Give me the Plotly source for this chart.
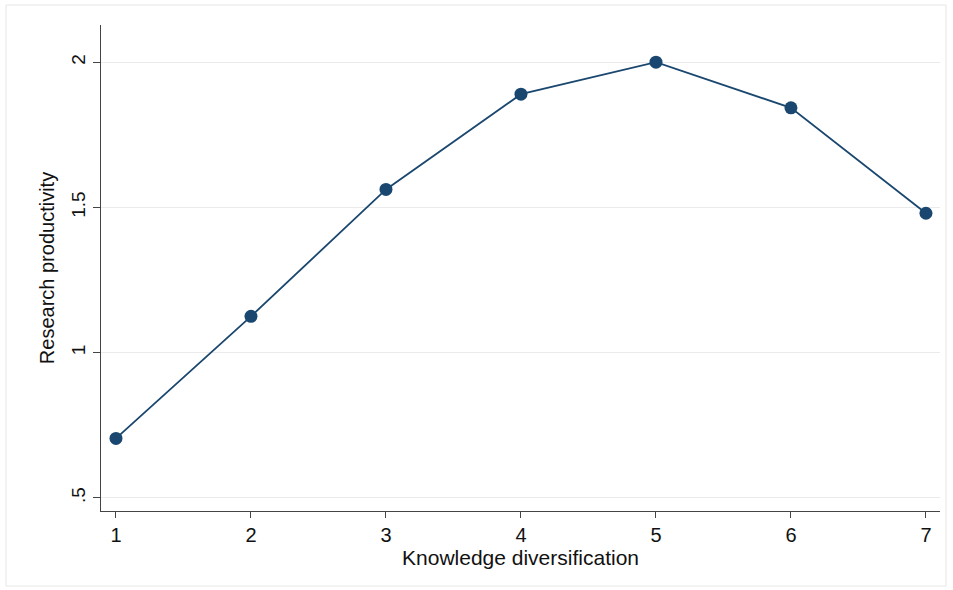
import plotly.graph_objects as go

diversification = [1, 2, 3, 4, 5, 6, 7]
productivity = [0.705, 1.125, 1.562, 1.89, 2.0, 1.843, 1.48]
x_ticks = [1, 2, 3, 4, 5, 6, 7]
y_ticks = [0.5, 1, 1.5, 2]
y_tick_text = [".5", "1", "1.5", "2"]

fig = go.Figure()
fig.add_trace(go.Scatter(
    x=diversification, y=productivity, mode="lines+markers",
    line=dict(color="#1a476f", width=1.8),
    marker=dict(color="#1a476f", size=13),
    showlegend=False,
))

fam = "Liberation Sans, Arial, sans-serif"
x_font = dict(family=fam, size=20, color="#111111")
x_title_font = dict(family=fam, size=21, color="#111111")
y_font = dict(family=fam, size=19, color="#111111")
y_title_font = dict(family=fam, size=20, color="#111111")

fig.update_layout(
    width=953, height=590,
    margin=dict(l=101, r=13, t=25, b=79),
    paper_bgcolor="white", plot_bgcolor="white",
    font=dict(family=fam, color="#111111"),
    xaxis=dict(
        range=[0.889, 7.104], tickvals=x_ticks, ticks="outside", ticklen=6,
        tickcolor="#444444", showline=True, linecolor="#444444", linewidth=1.3,
        showgrid=False, zeroline=False, tickfont=x_font,
        title=dict(text="Knowledge diversification", font=x_title_font, standoff=2),
    ),
    yaxis=dict(
        range=[0.455, 2.128], tickvals=y_ticks, ticktext=y_tick_text, tickangle=-90,
        ticks="outside", ticklen=7, tickcolor="#444444", showline=True,
        linecolor="#444444", linewidth=1.3, showgrid=True, gridcolor="#ebebeb",
        gridwidth=1, zeroline=False, tickfont=y_font,
        title=dict(text="Research productivity", font=y_title_font, standoff=8),
    ),
    shapes=[dict(
        type="rect", xref="paper", yref="paper",
        x0=(6 - 101) / 839, x1=(946 - 101) / 839,
        y0=(511 - 586) / 486, y1=(511 - 5) / 486,
        line=dict(color="#e6e6e6", width=1), fillcolor="rgba(0,0,0,0)",
        layer="below",
    )],
)

fig.write_html("out.html", config={"displayModeBar": False},
               post_script="document.body.style.margin='0px';")
